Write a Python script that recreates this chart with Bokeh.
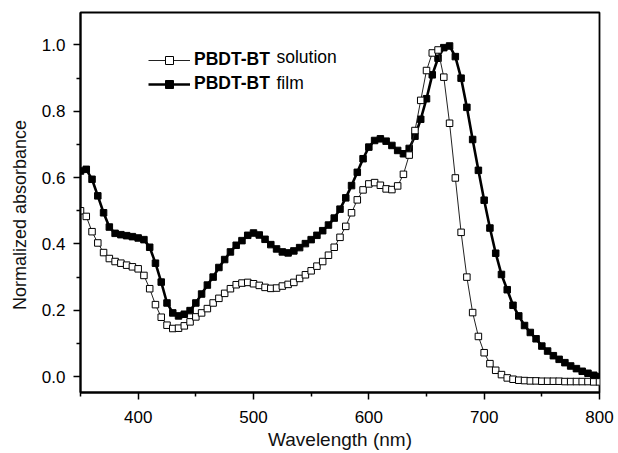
from bokeh.plotting import figure
from bokeh.models import (FixedTicker, PrintfTickFormatter, Range1d, Legend,
                          LegendItem, Label, ColumnDataSource)
from bokeh.embed import file_html
from bokeh.resources import INLINE

wavelength = [350, 355, 360, 365, 370, 375, 380, 385, 390, 395,
              400, 405, 410, 415, 420, 425, 430, 435, 440, 445,
              450, 455, 460, 465, 470, 475, 480, 485, 490, 495,
              500, 505, 510, 515, 520, 525, 530, 535, 540, 545,
              550, 555, 560, 565, 570, 575, 580, 585, 590, 595,
              600, 605, 610, 615, 620, 625, 630, 635, 640, 645,
              650, 655, 660, 665, 670, 675, 680, 685, 690, 695,
              700, 705, 710, 715, 720, 725, 730, 735, 740, 745,
              750, 755, 760, 765, 770, 775, 780, 785, 790, 795, 800]

solution = [0.500, 0.483, 0.437, 0.403, 0.374, 0.356, 0.347, 0.342, 0.336, 0.331,
            0.325, 0.305, 0.265, 0.217, 0.179, 0.155, 0.145, 0.146, 0.153, 0.165,
            0.180, 0.192, 0.205, 0.222, 0.236, 0.251, 0.265, 0.277, 0.282, 0.284,
            0.280, 0.275, 0.269, 0.266, 0.267, 0.273, 0.278, 0.284, 0.296, 0.307,
            0.319, 0.333, 0.347, 0.366, 0.390, 0.420, 0.453, 0.494, 0.533, 0.563,
            0.581, 0.585, 0.577, 0.566, 0.564, 0.575, 0.610, 0.668, 0.742, 0.833,
            0.923, 0.976, 0.985, 0.903, 0.764, 0.599, 0.435, 0.300, 0.193, 0.121,
            0.072, 0.039, 0.019, 0.006, -0.004, -0.008, -0.011, -0.012, -0.013, -0.013,
            -0.014, -0.014, -0.014, -0.014, -0.015, -0.015, -0.015, -0.015, -0.015, -0.016, -0.016]

film = [0.620, 0.625, 0.595, 0.545, 0.494, 0.451, 0.432, 0.428, 0.425, 0.422,
        0.418, 0.413, 0.390, 0.342, 0.285, 0.222, 0.192, 0.183, 0.188, 0.199,
        0.222, 0.249, 0.276, 0.300, 0.329, 0.353, 0.376, 0.396, 0.410, 0.426,
        0.433, 0.427, 0.414, 0.398, 0.385, 0.376, 0.373, 0.379, 0.389, 0.401,
        0.413, 0.426, 0.440, 0.457, 0.478, 0.505, 0.539, 0.576, 0.616, 0.657,
        0.692, 0.712, 0.717, 0.710, 0.697, 0.682, 0.672, 0.688, 0.725, 0.776,
        0.838, 0.910, 0.960, 0.992, 0.997, 0.965, 0.900, 0.812, 0.715, 0.622,
        0.532, 0.448, 0.372, 0.308, 0.262, 0.215, 0.183, 0.154, 0.133, 0.114,
        0.092, 0.077, 0.063, 0.052, 0.042, 0.032, 0.024, 0.016, 0.010, 0.004, 0.000]

x_ticks = [400, 500, 600, 700, 800]
x_minor = [350, 450, 550, 650, 750]
y_ticks = [0.0, 0.2, 0.4, 0.6, 0.8, 1.0]
y_minor = [0.1, 0.3, 0.5, 0.7, 0.9]

x_title = "Wavelength (nm)"
y_title = "Normalized absorbance"
series_names = ["PBDT-BT", "PBDT-BT"]
series_suffix = ["solution", "film"]

FONT = "Liberation Sans"

src = ColumnDataSource(dict(x=wavelength, sol=solution, film=film))

p = figure(width=618, height=453,
           x_range=Range1d(350, 800), y_range=Range1d(-0.048, 1.098),
           output_backend="svg", toolbar_location=None,
           min_border_left=80, min_border_right=19,
           min_border_top=12, min_border_bottom=61)

p.xgrid.visible = False
p.ygrid.visible = False
p.outline_line_color = "black"
p.outline_line_width = 1.8
p.background_fill_color = "white"
p.border_fill_color = "white"

# data
fl = p.line("x", "film", source=src, line_color="black", line_width=2.6)
fs = p.scatter("x", "film", source=src, marker="square", size=6.5,
               fill_color="black", line_color="black")
sl = p.line("x", "sol", source=src, line_color="#222222", line_width=1)
ss = p.scatter("x", "sol", source=src, marker="square", size=6.5,
               fill_color="white", line_color="black", line_width=1)

# axes
for ax in (p.xaxis[0], p.yaxis[0]):
    ax.axis_line_width = 2
    ax.major_tick_line_width = 1.5
    ax.minor_tick_line_width = 1.5
    ax.major_tick_out = 7
    ax.major_tick_in = 0
    ax.minor_tick_out = 4
    ax.minor_tick_in = 0
    ax.major_label_text_font = FONT
    ax.major_label_text_font_size = "17px"
    ax.major_label_text_color = "black"
    ax.axis_label_text_font = FONT
    ax.axis_label_text_font_style = "normal"
    ax.axis_label_text_color = "#111111"

p.xaxis.ticker = FixedTicker(ticks=x_ticks, minor_ticks=x_minor)
p.yaxis.ticker = FixedTicker(ticks=y_ticks, minor_ticks=y_minor)
p.yaxis.formatter = PrintfTickFormatter(format="%.1f")

p.xaxis.axis_label = x_title
p.xaxis.axis_label_text_font_size = "19px"
p.xaxis.major_label_standoff = 11
p.xaxis.axis_label_standoff = 3

# trailing no-break spaces push the rotated title slightly below frame centre
p.yaxis.axis_label = y_title + "\u00a0" * 5
p.yaxis.axis_label_text_font_size = "18px"
p.yaxis.major_label_standoff = 8
p.yaxis.axis_label_standoff = 9

# legend (bold polymer name) + regular words
legend = Legend(items=[LegendItem(label=series_names[0], renderers=[sl, ss]),
                       LegendItem(label=series_names[1], renderers=[fl, fs])],
                location=(68, 298), margin=0, padding=0,
                glyph_width=42, glyph_height=20, label_height=20,
                label_standoff=4, spacing=3,
                label_text_font=FONT, label_text_font_size="17.5px",
                label_text_font_style="bold", label_text_color="black",
                border_line_alpha=0, background_fill_alpha=0)
p.add_layout(legend, "center")

p.add_layout(Label(x=196, y=335.7, x_units="screen", y_units="screen",
                   text=series_suffix[0], text_font=FONT, text_font_size="17.5px",
                   text_baseline="middle", text_color="black"))
p.add_layout(Label(x=196, y=309.7, x_units="screen", y_units="screen",
                   text=series_suffix[1], text_font=FONT, text_font_size="17.5px",
                   text_baseline="middle", text_color="black"))

open("out.html", "w").write(file_html(p, INLINE))
